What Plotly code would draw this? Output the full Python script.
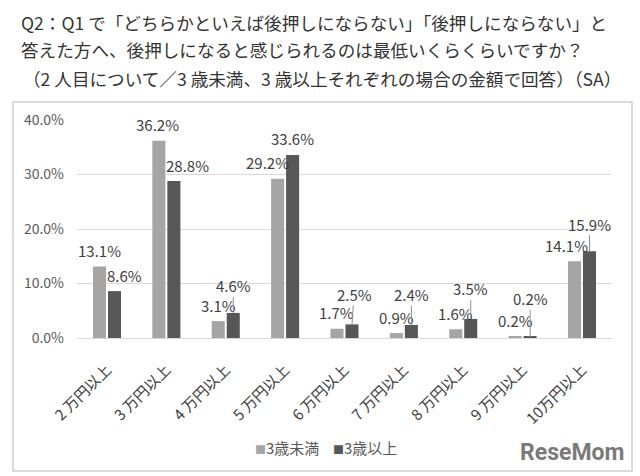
import plotly.graph_objects as go

# ---- data ----
categories = ["2 万円以上", "3 万円以上", "4 万円以上", "5 万円以上", "6 万円以上",
              "7 万円以上", "8 万円以上", "9 万円以上", "10万円以上"]
under3 = [13.1, 36.2, 3.1, 29.2, 1.7, 0.9, 1.6, 0.2, 14.1]
over3 = [8.6, 28.8, 4.6, 33.6, 2.5, 2.4, 3.5, 0.2, 15.9]
series_names = ["3歳未満", "3歳以上"]
y_ticks = [0, 10, 20, 30, 40]
title_lines = [
    "Q2：Q1 で「どちらかといえば後押しにならない」「後押しにならない」と",
    "答えた方へ、後押しになると感じられるのは最低いくらくらいですか？",
    "（2 人目について／3 歳未満、3 歳以上それぞれの場合の金額で回答）（SA）",
]

# ---- label layout (style) ----
light_dx = [0, -1, 0, -10, 0, 0, 0, 0, -8]
dark_dx = [10, 14, 0, 0, 2, 0, 0, 0, 0]
dark_leader = [False, False, True, False, True, True, True, True, True]
dark_leader_len = [0, 0, -27, 0, -30, -30, -30, -38, -27]

W, H = 640, 476
ML, MR, MT, MB = 77, 28, 120, 138
PW, PH = W - ML - MR, H - MT - MB

def px_x(p):
    return (p - ML) / PW

def px_y(p):
    return (H - MB - p) / PH

LIGHT = "#a5a5a5"
DARK = "#575757"
FONT = "Noto Sans CJK JP"
TXT = "#404040"

fig = go.Figure()
fig.add_trace(go.Bar(x=categories, y=under3, name=series_names[0],
                     marker=dict(color=LIGHT, line=dict(width=0))))
fig.add_trace(go.Bar(x=categories, y=over3, name=series_names[1],
                     marker=dict(color=DARK, line=dict(width=0))))

cat_w = PW / len(categories)
slot = cat_w * (1 - 0.495) / 2
off = slot / 2

ann = []
for i, c in enumerate(categories):
    ann.append(dict(x=c, y=under3[i], xref="x", yref="y", text=f"{under3[i]:.1f}%",
                    showarrow=False, xshift=-off + light_dx[i], yshift=16, borderpad=0,
                    yanchor="middle", font=dict(size=15, color=TXT, family=FONT)))
    if dark_leader[i]:
        ann.append(dict(x=c, y=over3[i], xref="x", yref="y", text=f"{over3[i]:.1f}%",
                        showarrow=True, arrowhead=0, arrowwidth=1, arrowcolor="#8c8c8c",
                        ax=dark_dx[i], ay=dark_leader_len[i], standoff=0, xshift=off,
                        borderpad=0, font=dict(size=15, color=TXT, family=FONT)))
    else:
        ann.append(dict(x=c, y=over3[i], xref="x", yref="y", text=f"{over3[i]:.1f}%",
                        showarrow=False, xshift=off + dark_dx[i], yshift=16, borderpad=0,
                        yanchor="middle", font=dict(size=15, color=TXT, family=FONT)))

# title lines
title_pos = [(19, 22), (19, 50), (21, 78)]
for t, (x0, y0) in zip(title_lines, title_pos):
    ann.append(dict(x=px_x(x0), y=px_y(y0), xref="paper", yref="paper", text=t,
                    showarrow=False, xanchor="left", yanchor="middle",
                    font=dict(size=17.6, color="#333333", family=FONT)))

# legend
leg_pos = [(253, 448), (331, 448)]
for name, col, (x0, y0) in zip(series_names, [LIGHT, DARK], leg_pos):
    ann.append(dict(x=px_x(x0), y=px_y(y0), xref="paper", yref="paper",
                    text=f"<span style='color:{col};font-size:11px'>■</span>{name}",
                    showarrow=False, xanchor="left", yanchor="middle",
                    font=dict(size=15, color="#595959", family=FONT)))

# logo
ann.append(dict(x=px_x(626), y=px_y(452), xref="paper", yref="paper", text="<b>ReseMom</b>",
                showarrow=False, xanchor="right", yanchor="middle",
                font=dict(size=23, color="#7a7a7a", family="Roboto")))

fig.update_layout(
    width=W, height=H,
    margin=dict(l=ML, r=MR, t=MT, b=MB, pad=0),
    paper_bgcolor="white", plot_bgcolor="white",
    barmode="group", bargap=0.495, bargroupgap=0.13,
    showlegend=False,
    annotations=ann,
    shapes=[dict(type="rect", xref="paper", yref="paper",
                 x0=px_x(13), x1=px_x(632), y0=px_y(471), y1=px_y(102),
                 line=dict(color="#d0d0d0", width=1.5), fillcolor="rgba(0,0,0,0)", layer="below")],
    font=dict(family=FONT, color="#595959"),
)
fig.update_yaxes(range=[0, 40], tickvals=y_ticks, ticktext=[f"{v:.1f}%" for v in y_ticks],
                 showgrid=True, gridcolor="#d9d9d9", gridwidth=1.2, zeroline=False,
                 showline=False, ticks="", ticklabelstandoff=12,
                 tickfont=dict(size=14, color="#595959", family=FONT))
fig.update_xaxes(tickangle=-45, showline=True, linecolor="#d9d9d9", linewidth=1.2,
                 ticks="", ticklabelstandoff=16,
                 tickfont=dict(size=15, color="#404040", family=FONT))
for tr in fig.data:
    tr.cliponaxis = False

fig.write_html("out.html")
